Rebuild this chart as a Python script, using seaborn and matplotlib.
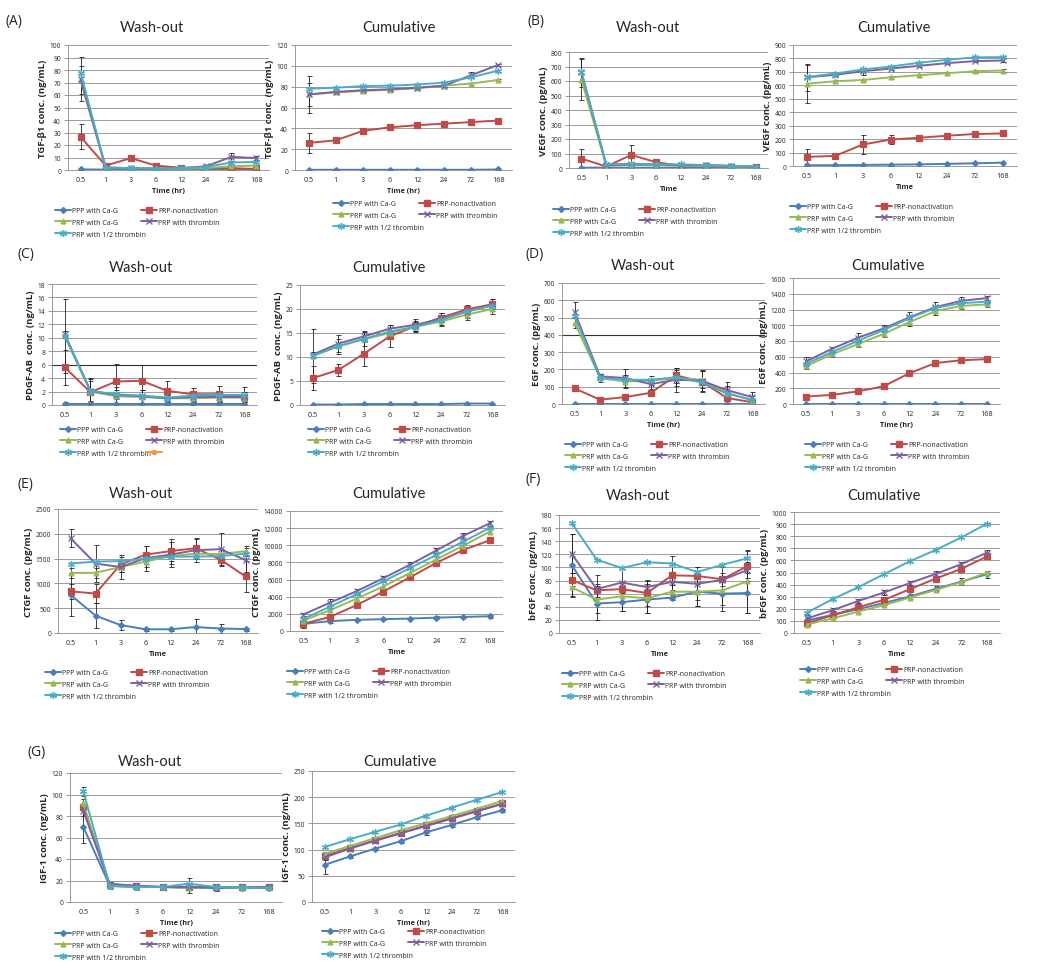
import numpy as np
import pandas as pd
import seaborn as sns
import matplotlib.pyplot as plt
from matplotlib.lines import Line2D

W, H = 1048, 970

# categories and series
times = ["0.5", "1", "3", "6", "12", "24", "72", "168"]
series_names = ["PPP with Ca-G", "PRP-nonactivation", "PRP with Ca-G",
                "PRP with thrombin", "PRP with 1/2 thrombin"]
colors = ["#4A7EBB", "#BE4B48", "#98B954", "#7D60A0", "#4BACC6"]
markers = ["D", "s", "^", "x", (6, 2, 0)]
msizes = [3, 4, 3.5, 4, 5]

# (A) TGF-b1, ng/mL
tgf_wash = [[0.5, 0.3, 0.3, 0.3, 0.3, 0.3, 0.3, 0.3],
            [26.5, 3.5, 9.5, 3.5, 1.8, 1.5, 1.5, 0.8],
            [72, 1.5, 1.5, 1.5, 1.0, 1.5, 3, 3.5],
            [73, 2, 1.5, 1, 1.5, 3, 10.5, 9.5],
            [78, 2, 1.5, 1, 1.5, 2.5, 6, 6.5]]
tgf_wash_err = {1: [10, 1, 1.5, 1, 0.5, 0.5, 0.5, 0.5],
                2: [11.5, 0, 0, 0, 0, 0, 0.5, 0.5],
                3: [17.5, 0.5, 0.5, 0.5, 0.5, 0.5, 3, 1.5]}
tgf_cum = [[0.2, 0.2, 0.2, 0.2, 0.2, 0.2, 0.2, 0.5],
           [26, 28.5, 37.5, 41, 43, 44.5, 46, 47.5],
           [72.5, 74.5, 76, 77, 78.5, 81, 83, 86.5],
           [72.5, 75, 76.5, 77.5, 79, 81, 91, 101],
           [78, 79, 80.5, 81, 82, 84, 89, 95.5]]
tgf_cum_err = {1: [10, 1.5, 1, 1, 1, 1, 1, 1],
               2: [11.5, 1, 1, 1, 1, 1, 1, 1],
               3: [18, 1, 1, 1, 1, 1, 3, 1]}

# (B) VEGF, pg/mL
vegf_wash = [[3, 2, 2, 2, 2, 2, 2, 2],
             [65, 10, 90, 40, 15, 15, 10, 10],
             [610, 15, 20, 20, 15, 15, 10, 10],
             [660, 20, 25, 25, 20, 20, 15, 8],
             [665, 25, 30, 25, 25, 20, 15, 8]]
vegf_wash_err = {1: [65, 5, 68, 20, 10, 5, 5, 5],
                 2: [140, 5, 5, 5, 5, 5, 5, 5],
                 3: [100, 5, 5, 10, 5, 5, 5, 5]}
vegf_cum = [[5, 6, 8, 10, 12, 16, 20, 25],
            [68, 75, 160, 197, 210, 225, 238, 242],
            [612, 630, 640, 660, 675, 690, 705, 710],
            [660, 678, 705, 725, 745, 765, 780, 785],
            [662, 688, 718, 740, 768, 790, 808, 810]]
vegf_cum_err = {1: [60, 5, 70, 35, 10, 10, 10, 10],
                2: [140, 10, 10, 10, 10, 10, 10, 10],
                3: [100, 10, 25, 10, 10, 10, 10, 10]}

# (C) PDGF-AB, ng/mL
pdgf_wash = [[0.1, 0.1, 0.1, 0.1, 0.1, 0.1, 0.1, 0.1],
             [5.6, 1.9, 3.5, 3.6, 2.1, 1.6, 1.6, 1.2],
             [10.2, 2.0, 1.3, 1.2, 1.0, 1.0, 1.1, 1.1],
             [10.5, 2.1, 1.5, 1.3, 1.0, 1.2, 1.2, 1.2],
             [10.3, 2.1, 1.6, 1.4, 1.1, 1.4, 1.5, 1.5]]
pdgf_wash_err = {0: [0.3, 0.4, 0, 0, 0, 0, 0.4, 0.4],
                 1: [2.6, 2, 2.6, 2.3, 1.5, 1, 1.3, 1.5],
                 2: [5.5, 2, 1, 1, 0.5, 0.5, 0.5, 0.5],
                 3: [0.5, 1.5, 1.2, 1.0, 0.6, 0.8, 0.8, 0.8]}
pdgf_cum = [[0.1, 0.1, 0.2, 0.2, 0.2, 0.2, 0.3, 0.3],
            [5.6, 7.3, 10.7, 14.3, 16.4, 18.2, 19.9, 21.0],
            [10.2, 12.2, 13.7, 15.0, 16.3, 17.4, 18.8, 20.0],
            [10.5, 12.8, 14.3, 15.9, 16.7, 17.9, 19.4, 20.8],
            [10.3, 12.3, 13.8, 15.3, 16.3, 17.7, 19.5, 20.7]]
pdgf_cum_err = {1: [2.5, 1.3, 2.6, 2.3, 1.0, 1.0, 1.0, 1.0],
                2: [5.6, 1.5, 1.5, 1.0, 1.0, 1.0, 1.0, 1.0],
                3: [0.5, 1.8, 1.2, 0.8, 1.2, 1.3, 1.2, 1.3]}

# (D) EGF, pg/mL
egf_wash = [[0, 0, 0, 0, 0, 0, 0, 0],
            [90, 25, 40, 65, 165, 130, 35, 10],
            [470, 150, 130, 135, 150, 140, 65, 20],
            [530, 160, 150, 115, 140, 135, 80, 40],
            [510, 150, 140, 140, 155, 125, 60, 25]]
egf_wash_err = {1: [15, 10, 10, 15, 45, 60, 20, 10],
                2: [30, 20, 35, 25, 45, 50, 40, 25],
                3: [60, 15, 50, 30, 70, 60, 50, 30]}
egf_cum = [[0, 0, 0, 0, 0, 0, 0, 0],
           [95, 115, 160, 225, 390, 520, 555, 570],
           [480, 630, 760, 890, 1040, 1180, 1245, 1265],
           [540, 700, 840, 960, 1100, 1230, 1310, 1345],
           [510, 660, 800, 940, 1090, 1220, 1280, 1300]]
egf_cum_err = {1: [15, 15, 15, 15, 15, 15, 15, 15],
               2: [30, 30, 40, 40, 50, 50, 40, 30],
               3: [60, 30, 60, 40, 70, 70, 50, 30]}

# (E) CTGF, pg/mL
ctgf_wash = [[770, 350, 160, 75, 75, 120, 90, 80],
             [840, 795, 1380, 1580, 1650, 1710, 1480, 1140],
             [1210, 1215, 1330, 1440, 1550, 1600, 1590, 1650],
             [1910, 1400, 1330, 1510, 1580, 1670, 1690, 1470],
             [1400, 1440, 1450, 1500, 1540, 1540, 1550, 1600]]
ctgf_wash_err = {0: [430, 250, 100, 30, 30, 160, 100, 30],
                 1: [150, 190, 150, 180, 250, 200, 130, 320],
                 2: [100, 100, 100, 100, 100, 100, 100, 100],
                 3: [180, 380, 250, 250, 250, 230, 320, 250]}
ctgf_cum = [[830, 1150, 1300, 1380, 1450, 1560, 1640, 1720],
            [840, 1640, 3020, 4600, 6250, 7960, 9440, 10580],
            [1210, 2430, 3760, 5200, 6750, 8350, 9940, 11590],
            [1910, 3310, 4640, 6150, 7730, 9400, 11090, 12560],
            [1400, 2840, 4290, 5790, 7330, 8870, 10420, 12020]]
ctgf_cum_err = {0: [430, 200, 150, 100, 100, 150, 150, 150],
                3: [180, 400, 300, 300, 300, 300, 300, 300]}

# (F) bFGF, pg/mL
bfgf_wash = [[104, 45, 47, 51, 54, 63, 60, 61],
             [81, 65, 67, 61, 88, 87, 82, 102],
             [70, 51, 56, 53, 63, 63, 65, 79],
             [121, 67, 77, 70, 78, 75, 81, 96],
             [168, 112, 99, 108, 106, 93, 104, 114]]
bfgf_wash_err = {0: [47, 25, 14, 20, 4, 22, 27, 30],
                 1: [10, 10, 10, 20, 29, 13, 10, 23],
                 2: [15, 20, 22, 22, 10, 22, 22, 48],
                 3: [30, 22, 20, 10, 13, 25, 20, 12]}
bfgf_cum = [[104, 150, 197, 248, 302, 365, 425, 486],
            [81, 146, 213, 274, 362, 449, 531, 633],
            [70, 121, 177, 230, 293, 356, 421, 500],
            [121, 188, 265, 335, 413, 488, 569, 665],
            [168, 280, 379, 487, 593, 686, 790, 904]]
bfgf_cum_err = {0: [20, 30, 30, 20, 20, 20, 30, 30],
                3: [30, 20, 20, 20, 20, 25, 20, 20]}

# (G) IGF-1, ng/mL
igf_wash = [[70, 15, 14, 14, 13, 13, 13, 13],
            [88, 16, 15, 14, 14, 14, 14, 14],
            [92, 15, 14, 14, 13, 14, 13, 14],
            [85, 17, 15, 14, 14, 14, 14, 14],
            [103, 15, 14, 14, 17, 14, 14, 13]]
igf_wash_err = {0: [15, 3, 3, 2, 5, 3, 2, 2],
                1: [8, 2, 2, 2, 2, 2, 2, 2],
                4: [4, 2, 2, 2, 5, 2, 2, 2]}
igf_cum = [[71, 87, 102, 116, 133, 147, 162, 175],
           [88, 103, 118, 132, 146, 160, 174, 188],
           [92, 107, 122, 137, 150, 164, 178, 193],
           [85, 102, 117, 131, 145, 159, 173, 187],
           [105, 120, 134, 148, 165, 180, 195, 210]]
igf_cum_err = {0: [18, 3, 3, 3, 5, 3, 3, 3],
               1: [8, 3, 3, 3, 3, 3, 3, 3]}

sns.set_style("white")
plt.rcParams["font.family"] = ["Open Sans", "DejaVu Sans"]

fig = plt.figure(figsize=(W / 100, H / 100), dpi=100)
GRID = "#8c8c8c"


def add_box(l, t, r, b):
    return fig.add_axes([l / W, 1 - b / H, (r - l) / W, (b - t) / H])


def draw_panel(ax, vals, errs, ymax, ystep, ylabel, xlabel, darkline=None):
    xpos = np.arange(len(times))
    for i, v in enumerate(vals):
        if i in errs:
            ax.errorbar(xpos, v, yerr=errs[i], fmt="none", ecolor="#222222",
                        elinewidth=0.6, capsize=1.8, capthick=0.6, zorder=2)
    for i, v in enumerate(vals):
        sns.lineplot(x=xpos, y=v, ax=ax, color=colors[i], marker=markers[i],
                     markersize=msizes[i], markeredgecolor=colors[i],
                     markeredgewidth=0.9, linewidth=1.4, legend=False, zorder=3)
    ax.set_xlim(-0.5, len(times) - 0.5)
    ax.set_ylim(0, ymax)
    yt = np.arange(0, ymax + ystep / 2, ystep)
    ax.set_yticks(yt)
    ax.set_yticklabels([f"{int(t)}" for t in yt], fontsize=4.8)
    ax.set_xticks(xpos)
    ax.set_xticklabels(times, fontsize=5.2)
    ax.set_xticks(np.arange(-0.5, len(times)), minor=True)
    ax.tick_params(axis="x", which="major", length=0, pad=4)
    ax.tick_params(axis="x", which="minor", length=3, color=GRID, width=0.6,
                   direction="out")
    ax.tick_params(axis="y", length=3, color=GRID, width=0.6, direction="out",
                   pad=2, left=True)
    ax.grid(False)
    for y in yt[1:]:
        ax.axhline(y, color="#333333" if darkline == y else GRID,
                   lw=0.6 if darkline != y else 0.8, zorder=0)
    for s in ["top", "right"]:
        ax.spines[s].set_visible(False)
    for s in ["left", "bottom"]:
        ax.spines[s].set_color(GRID)
        ax.spines[s].set_linewidth(0.6)
    ax.set_ylabel(ylabel, fontsize=6.8, fontweight="bold", labelpad=2)
    ax.set_xlabel(xlabel, fontsize=5.2, fontweight="bold", labelpad=3)


def add_legend(x, y, extra=False):
    hs = []
    order = [0, 2, 4, 1, 3]
    for i in order:
        hs.append(Line2D([], [], color=colors[i], marker=markers[i],
                         markersize=msizes[i], markeredgecolor=colors[i],
                         lw=1.4, label=series_names[i]))
    if extra:
        hs.append(Line2D([], [], color="#F79646", marker="o", markersize=3,
                         lw=1.4, label=" "))
    fig.legend(handles=hs, ncol=2, loc="upper left",
               bbox_to_anchor=(x / W, 1 - y / H), frameon=False,
               fontsize=5.0, handlelength=2.3, handletextpad=0.2,
               columnspacing=-0.8, labelspacing=0.7, borderaxespad=0,
               borderpad=0)


panels = [
    dict(letter="(A)", lp=(5, 22),
         wb=(68, 46, 269, 171), cb=(295, 46, 512, 171),
         wt=(152, 28), ct=(399, 28),
         wd=tgf_wash, we=tgf_wash_err, cd=tgf_cum, ce=tgf_cum_err,
         wy=(100, 10), cy=(120, 20), yl="TGF-\u03b21 conc. (ng/mL)", xl="Time (hr)",
         wl=(55, 208), cl=(333, 201)),
    dict(letter="(B)", lp=(527, 22),
         wb=(569, 53, 768, 169), cb=(793, 46, 1017, 167),
         wt=(648, 28), ct=(894, 28),
         wd=vegf_wash, we=vegf_wash_err, cd=vegf_cum, ce=vegf_cum_err,
         wy=(800, 100), cy=(900, 100), yl="VEGF conc. (pg/mL)", xl="Time",
         wl=(553, 207), cl=(790, 204)),
    dict(letter="(C)", lp=(17, 255),
         wb=(52, 285, 257, 406), cb=(300, 286, 505, 406),
         wt=(141, 268), ct=(389, 268),
         wd=pdgf_wash, we=pdgf_wash_err, cd=pdgf_cum, ce=pdgf_cum_err,
         wy=(18, 2), cy=(25, 5), yl="PDGF-AB  conc. (ng/mL)", xl="",
         wl=(60, 427), cl=(308, 427), extra=True, dark=6),
    dict(letter="(D)", lp=(525, 255),
         wb=(562, 284, 765, 405), cb=(793, 279, 1000, 405),
         wt=(643, 266), ct=(888, 266),
         wd=egf_wash, we=egf_wash_err, cd=egf_cum, ce=egf_cum_err,
         wy=(700, 100), cy=(1600, 200), yl="EGF conc. (pg/mL)", xl="Time (hr)",
         wl=(565, 442), cl=(805, 442), dark=400),
    dict(letter="(E)", lp=(17, 485),
         wb=(58, 510, 258, 634), cb=(290, 512, 503, 632),
         wt=(141, 494), ct=(389, 494),
         wd=ctgf_wash, we=ctgf_wash_err, cd=ctgf_cum, ce=ctgf_cum_err,
         wy=(2500, 500), cy=(14000, 2000), yl="CTGF conc. (pg/mL)", xl="Time",
         wl=(45, 670), cl=(287, 669)),
    dict(letter="(F)", lp=(525, 480),
         wb=(559, 516, 760, 634), cb=(794, 513, 1000, 634),
         wt=(638, 496), ct=(884, 496),
         wd=bfgf_wash, we=bfgf_wash_err, cd=bfgf_cum, ce=bfgf_cum_err,
         wy=(180, 20), cy=(1000, 100), yl="bFGF conc. (pg/mL)", xl="Time",
         wl=(562, 671), cl=(800, 667)),
    dict(letter="(G)", lp=(27, 753),
         wb=(70, 774, 282, 903), cb=(312, 772, 515, 903),
         wt=(150, 762), ct=(400, 762),
         wd=igf_wash, we=igf_wash_err, cd=igf_cum, ce=igf_cum_err,
         wy=(120, 20), cy=(250, 50), yl="IGF-1 conc. (ng/mL)", xl="Time (hr)",
         wl=(55, 931), cl=(322, 929)),
]

for p in panels:
    fig.text(p["lp"][0] / W, 1 - p["lp"][1] / H, p["letter"], fontsize=10,
             ha="left", va="center")
    axw = add_box(*p["wb"])
    draw_panel(axw, p["wd"], p["we"], p["wy"][0], p["wy"][1], p["yl"], p["xl"],
               darkline=p.get("dark"))
    axc = add_box(*p["cb"])
    draw_panel(axc, p["cd"], p["ce"], p["cy"][0], p["cy"][1], p["yl"], p["xl"])
    fig.text(p["wt"][0] / W, 1 - p["wt"][1] / H, "Wash-out", fontsize=10.5,
             ha="center", va="center", family=["Lato", "DejaVu Sans"])
    fig.text(p["ct"][0] / W, 1 - p["ct"][1] / H, "Cumulative", fontsize=10.5,
             ha="center", va="center", family=["Lato", "DejaVu Sans"])
    add_legend(*p["wl"], extra=p.get("extra", False))
    add_legend(*p["cl"])

fig.savefig("out.png", dpi=100)
